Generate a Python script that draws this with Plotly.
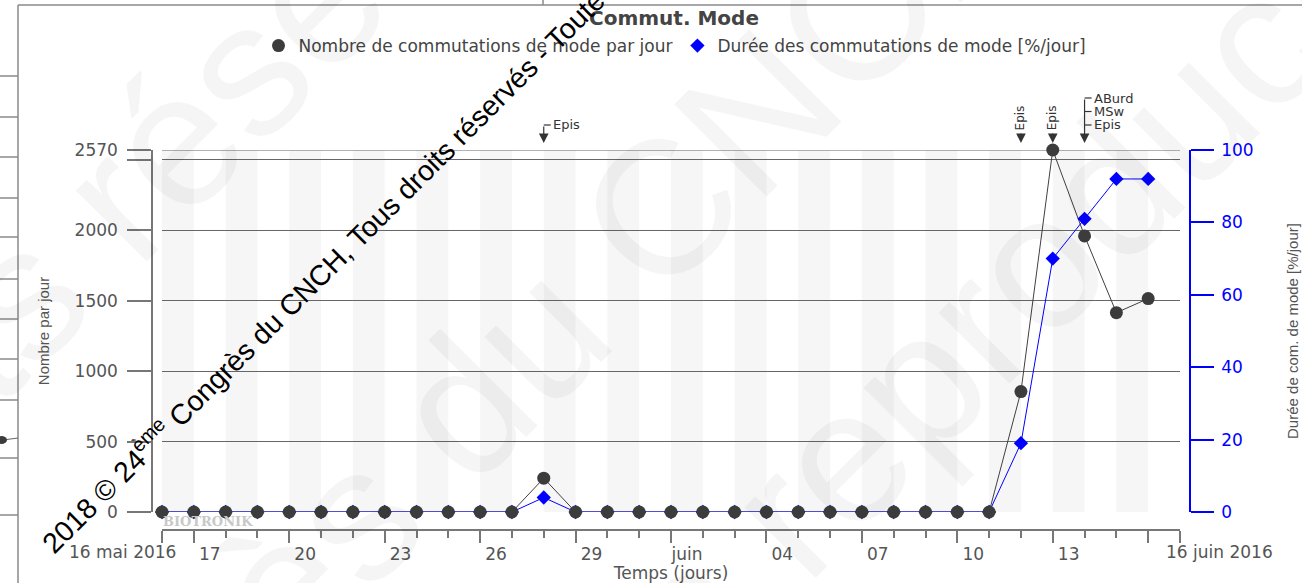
import plotly.graph_objects as go
import pandas as pd

W, H = 1302, 583


def px(x):
    return x / W


def py(y):
    return 1 - y / H


# Daily readings, 16 May to 16 June 2016
days = pd.date_range("2016-05-16", "2016-06-16", freq="D")
switch_count = [0, 0, 0, 0, 0, 0, 0, 0, 0, 0, 0, 0, 240, 0, 0, 0,
                0, 0, 0, 0, 0, 0, 0, 0, 0, 0, 0, 855, 2570, 1960, 1415, 1515]
switch_pct = [0, 0, 0, 0, 0, 0, 0, 0, 0, 0, 0, 0, 4, 0, 0, 0,
              0, 0, 0, 0, 0, 0, 0, 0, 0, 0, 0, 19, 70, 81, 92, 92]

count_ticks = [0, 500, 1000, 1500, 2000, 2500, 2570]
count_tick_text = ["0", "500", "1000", "1500", "2000", "", "2570"]
pct_ticks = [0, 20, 40, 60, 80, 100]

x_start, x_end = "2016-05-16", "2016-06-17"
long_tick_days = ["2016-05-16", "2016-05-17", "2016-05-20", "2016-05-23", "2016-05-26",
                  "2016-05-29", "2016-06-01", "2016-06-04", "2016-06-07", "2016-06-10",
                  "2016-06-13", "2016-06-16", "2016-06-17"]
label_days = ["2016-05-17", "2016-05-20", "2016-05-23", "2016-05-26", "2016-05-29",
              "2016-06-01", "2016-06-04", "2016-06-07", "2016-06-10", "2016-06-13"]
label_text = ["17", "20", "23", "26", "29", "juin", "04", "07", "10", "13"]
first_label, last_label = "16 mai 2016", "16 juin 2016"

# Device events: (day, labels, vertical text?)
events = [
    ("2016-05-28", ["Epis"], False),
    ("2016-06-12", ["Epis"], True),
    ("2016-06-13", ["Epis"], True),
    ("2016-06-14", ["ABurd", "MSw", "Epis"], False),
]

GREY_TXT = "#555555"
AXIS = "#777777"
BLUE = "#0000ff"
DARK = "#3c3c3c"
FONT = "DejaVu Sans"
NARROW = "Liberation Sans"


def noon(d):
    return pd.Timestamp(d) + pd.Timedelta(hours=12)


fig = go.Figure()

fig.add_trace(go.Scatter(x=days, y=switch_count, mode="lines",
                         line=dict(color="#404040", width=1),
                         showlegend=False, hoverinfo="skip", cliponaxis=False))
fig.add_trace(go.Scatter(x=days, y=switch_pct, yaxis="y2", mode="lines",
                         line=dict(color=BLUE, width=1),
                         showlegend=False, hoverinfo="skip", cliponaxis=False))
fig.add_trace(go.Scatter(x=days, y=switch_pct, yaxis="y2", mode="markers",
                         marker=dict(symbol="diamond", size=11, color=BLUE),
                         name="Durée des commutations de mode [%/jour]",
                         legendrank=2, cliponaxis=False))
fig.add_trace(go.Scatter(x=days, y=switch_count, yaxis="y3", mode="markers",
                         marker=dict(symbol="circle", size=13, color=DARK),
                         name="Nombre de commutations de mode par jour",
                         legendrank=1, cliponaxis=False))
# carrier for the label axis
fig.add_trace(go.Scatter(x=[None], y=[None], xaxis="x2", showlegend=False,
                         hoverinfo="skip"))

shapes = []
# alternating day bands
for i, d in enumerate(days):
    if i % 2 == 0:
        shapes.append(dict(type="rect", xref="x", yref="y domain",
                           x0=d, x1=d + pd.Timedelta(days=1), y0=0, y1=1,
                           fillcolor="#f6f6f6", line=dict(width=0), layer="below"))
# top reference line at the axis maximum
shapes.append(dict(type="line", xref="x domain", yref="y", x0=0, x1=1,
                   y0=count_ticks[-1], y1=count_ticks[-1],
                   line=dict(color="#666666", width=1), layer="below"))

annotations = []
# end labels of the time axis
annotations.append(dict(x=noon(x_start), y=py(552), xref="x", yref="paper",
                        text=first_label, showarrow=False, xanchor="right",
                        yanchor="middle", font=dict(family=FONT, size=17, color=GREY_TXT)))
annotations.append(dict(x=noon("2016-06-16"), y=py(552), xref="x", yref="paper",
                        text=last_label, showarrow=False, xanchor="left",
                        yanchor="middle", font=dict(family=FONT, size=17, color=GREY_TXT)))

# event markers
for day, labels, vertical in events:
    tip = py(143)
    if vertical:
        annotations.append(dict(x=day, y=tip, xref="x", yref="paper", text="",
                                showarrow=True, ax=0, ay=-11, arrowhead=2,
                                arrowsize=1.6, arrowwidth=1.2, arrowcolor="#333"))
        annotations.append(dict(x=day, y=py(132), xref="x", yref="paper",
                                text=labels[0], textangle=-90, showarrow=False,
                                yanchor="bottom",
                                font=dict(family=FONT, size=12, color="#333")))
    else:
        top = 143 - 18 - 13.5 * (len(labels) - 1)
        annotations.append(dict(x=day, y=tip, xref="x", yref="paper", text="",
                                showarrow=True, ax=0, ay=-(143 - top), arrowhead=2,
                                arrowsize=1.6, arrowwidth=1.2, arrowcolor="#333"))
        for k, lab in enumerate(labels):
            yk = top + 13.5 * k
            shapes.append(dict(type="line", xref="x", yref="paper", xsizemode="pixel",
                               xanchor=day, x0=0, x1=7, y0=py(yk), y1=py(yk),
                               line=dict(color="#333", width=1.2)))
            annotations.append(dict(x=day, y=py(yk), xref="x", yref="paper",
                                    text=lab, showarrow=False, xanchor="left",
                                    yanchor="middle", xshift=7,
                                    font=dict(family=FONT, size=13, color="#333")))

annotations.append(dict(x=px(161), y=py(521), xref="paper", yref="paper",
                        text="<b>BIOTRONIK</b>", showarrow=False, xanchor="left",
                        yanchor="middle",
                        font=dict(family="DejaVu Serif", size=13, color="#c8c8c8")))

# outer frame and neighbouring table edges
frame = dict(color="#8a8a8a", width=1.5)
shapes.append(dict(type="line", xref="paper", yref="paper", x0=px(18), x1=1,
                   y0=py(5), y1=py(5), line=frame))
shapes.append(dict(type="line", xref="paper", yref="paper", x0=px(18), x1=px(18),
                   y0=py(5), y1=0, line=frame))
shapes.append(dict(type="line", xref="paper", yref="paper", x0=px(543), x1=px(543),
                   y0=1, y1=py(5), line=frame))
for yy in [76, 117, 157, 198, 237, 279, 319, 359, 400, 458, 515]:
    shapes.append(dict(type="line", xref="paper", yref="paper", x0=0, x1=px(18),
                       y0=py(yy), y1=py(yy), line=frame))
shapes.append(dict(type="line", xref="paper", yref="paper", x0=px(3), x1=px(18),
                   y0=py(440), y1=py(438), line=dict(color="#666", width=1)))
shapes.append(dict(type="circle", xref="paper", yref="paper", x0=px(-4), x1=px(7),
                   y0=py(444), y1=py(436), fillcolor=DARK, line=dict(width=0)))

# watermark
wm_font = dict(family="Liberation Sans", size=190, color="rgba(0,0,0,0.04)")
for text, cx, cy in [("Tous droits réservés", 5, 310),
                     ("Congrès du CNCH", 440, 430),
                     ("Toute reproduction", 950, 350)]:
    annotations.append(dict(x=px(cx), y=py(cy), xref="paper", yref="paper",
                            text=text, textangle=-45, showarrow=False,
                            xanchor="center", yanchor="middle", font=wm_font))
annotations.append(dict(x=px(30), y=py(562), xref="paper", yref="paper",
                        text="2018 © 24<sup>ème</sup> Congrès du CNCH, Tous droits réservés - Toute reproduction interdite",
                        textangle=-45, showarrow=False, xanchor="left", yanchor="bottom",
                        font=dict(family="Liberation Sans", size=28.5, color="#000000")))

tickfont = dict(family=FONT, size=17, color=GREY_TXT)

fig.update_layout(
    width=W, height=H, autosize=False,
    margin=dict(l=0, r=0, t=0, b=0, pad=0),
    paper_bgcolor="white", plot_bgcolor="rgba(0,0,0,0)",
    title=dict(text="<b>Commut. Mode</b>", x=px(674), y=py(18), xanchor="center",
               yanchor="middle", font=dict(family=FONT, size=20, color="#444")),
    legend=dict(orientation="h", x=px(675), xanchor="center", y=py(46),
                yanchor="middle", font=dict(family=FONT, size=17, color="#444"),
                bgcolor="rgba(0,0,0,0)", itemwidth=30, traceorder="normal"),
    xaxis=dict(type="date", domain=[px(162), px(1180)], range=[x_start, x_end],
               anchor="free", position=py(530), showline=True, linecolor=AXIS,
               linewidth=1.5, ticks="outside", tickmode="array", tickvals=long_tick_days,
               ticklen=12, tickwidth=1.5, tickcolor=AXIS, showticklabels=False,
               showgrid=False, zeroline=False, automargin=False,
               minor=dict(ticks="outside", tickmode="array", tickvals=list(days) + [x_end],
                          ticklen=7, tickwidth=1.5, tickcolor=AXIS, showgrid=False)),
    xaxis2=dict(type="date", overlaying="x", domain=[px(162), px(1180)],
                range=[x_start, x_end], anchor="free", position=py(530),
                showline=False, ticks="", tickmode="array",
                tickvals=[noon(d) for d in label_days], ticktext=label_text,
                tickfont=tickfont, ticklabelstandoff=12, showgrid=False, zeroline=False,
                automargin=False,
                title=dict(text="Temps (jours)", font=dict(family=FONT, size=17, color=GREY_TXT),
                           standoff=4)),
    yaxis=dict(domain=[py(512), py(150)], range=[0, 2570], anchor="free",
               position=px(152), showline=True, linecolor=AXIS, linewidth=1.5,
               ticks="outside", ticklen=24, tickwidth=1.5, tickcolor=AXIS,
               tickmode="array", tickvals=count_ticks, ticktext=count_tick_text,
               tickfont=tickfont, ticklabelstandoff=6, automargin=False,
               showgrid=True, gridcolor="#666666", gridwidth=1, zeroline=False,
               title=dict(text="Nombre par jour", standoff=20,
                          font=dict(family=NARROW, size=15, color=GREY_TXT))),
    yaxis2=dict(overlaying="y", side="right", range=[0, 100], anchor="free",
                position=px(1190), showline=True, linecolor=BLUE, linewidth=1.5,
                ticks="outside", ticklen=23, tickwidth=1.5, tickcolor=BLUE,
                tickmode="array", tickvals=pct_ticks, automargin=False,
                tickfont=dict(family=FONT, size=17, color=BLUE), ticklabelstandoff=4,
                showgrid=False, zeroline=False,
                title=dict(text="Durée de com. de mode [%/jour]", standoff=34,
                           font=dict(family=NARROW, size=15, color=GREY_TXT))),
    yaxis3=dict(overlaying="y", range=[0, 2570], visible=False, automargin=False),
    shapes=shapes,
    annotations=annotations,
    showlegend=True,
)

fig.write_html("out.html")
